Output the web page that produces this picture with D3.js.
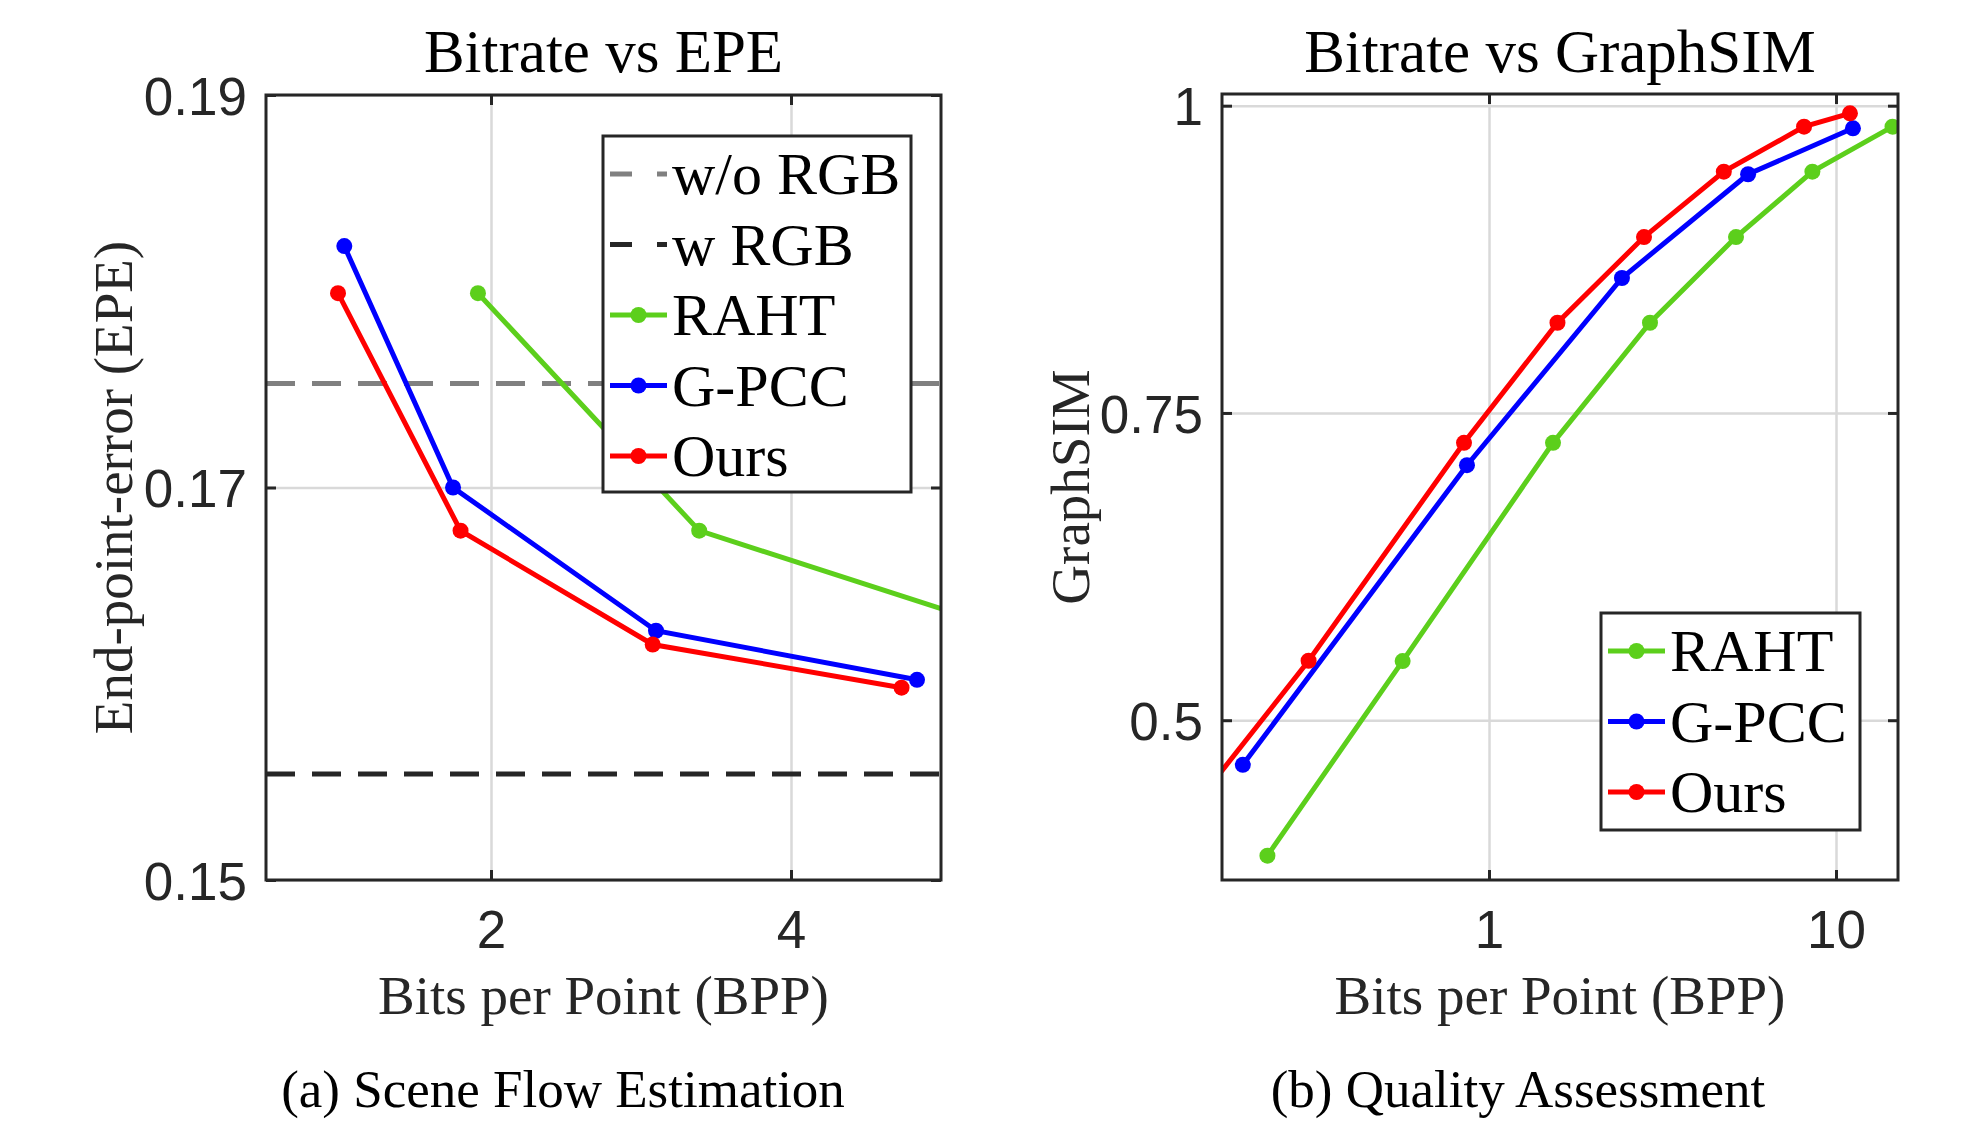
<!DOCTYPE html>
<html>
  <head>
    <meta charset="utf-8" />
    <title>Bitrate vs EPE / GraphSIM</title>
    <script src="https://d3js.org/d3.v7.min.js"></script>
    <style>
      body { margin: 0; background: #fff; }
      .tick text { font-family: "Liberation Sans", Arial, sans-serif; font-size: 53px; fill: #262626; }
      .frame { fill: none; stroke: #262626; stroke-width: 3; }
      .grid line { stroke: #d9d9d9; stroke-width: 2.5; }
      .grid path { display: none; }
      .ax path { display: none; }
      .ax line { stroke: #262626; stroke-width: 3; }
      .serif { font-family: "Liberation Serif", "Times New Roman", serif; }
    </style>
  </head>
  <body>
    <svg id="chart" width="1963" height="1127"></svg>
    <script>
      // ---- data: (a) scene flow, bitrate vs EPE ----
      const epeXTicks = [2, 4];
      const epeYTicks = [0.15, 0.17, 0.19];
      const epeRahtBpp = [1.913, 3.388, 5.74, 8.0];
      const epeRahtVal = [0.1799, 0.1678, 0.1620, 0.1598];
      const epeGpccBpp = [1.022, 1.747, 3.100, 4.840];
      const epeGpccVal = [0.1823, 0.1700, 0.1627, 0.1602];
      const epeOursBpp = [0.980, 1.797, 3.078, 4.737];
      const epeOursVal = [0.1799, 0.1678, 0.1620, 0.1598];
      const epeWoRGB = 0.1753;
      const epeWRGB = 0.1554;

      // ---- data: (b) quality assessment, bitrate vs GraphSIM ----
      const simXTicks = [1, 10];
      const simYTicks = [0.5, 0.75, 1];
      const simRahtBpp = [0.2298, 0.5637, 1.529, 2.91, 5.15, 8.55, 14.55];
      const simRahtVal = [0.3898, 0.5481, 0.7257, 0.8234, 0.8931, 0.9463, 0.9829];
      const simGpccBpp = [0.1952, 0.864, 2.416, 5.58, 11.19];
      const simGpccVal = [0.4637, 0.7075, 0.8598, 0.9442, 0.9816];
      const simOursBpp = [0.109, 0.302, 0.847, 1.575, 2.797, 4.75, 8.09, 10.97];
      const simOursVal = [0.3898, 0.5484, 0.7257, 0.8234, 0.8931, 0.9463, 0.9829, 0.9938];

      const colors = { RAHT: '#5ccf1c', 'G-PCC': '#0000ff', Ours: '#ff0000' };

      const svg = d3.select('#chart');
      svg.append('rect').attr('width', 1963).attr('height', 1127).attr('fill', '#fff');

      const zip = (xs, ys) => xs.map((x, i) => [x, ys[i]]);

      function panel(opt) {
        const { x0, x1, y0, y1, x, y, id } = opt;
        const g = svg.append('g');

        g.append('clipPath').attr('id', id)
          .append('rect').attr('x', x0).attr('y', y0)
          .attr('width', x1 - x0).attr('height', y1 - y0);

        // grid
        g.append('g').attr('class', 'grid')
          .attr('transform', `translate(0,${y1})`)
          .call(d3.axisBottom(x).tickValues(opt.xTicks).tickSize(-(y1 - y0)).tickFormat(''));
        g.append('g').attr('class', 'grid')
          .attr('transform', `translate(${x0},0)`)
          .call(d3.axisLeft(y).tickValues(opt.yTicks).tickSize(-(x1 - x0)).tickFormat(''));

        // reference lines + series
        const plot = g.append('g').attr('clip-path', `url(#${id})`);
        (opt.hlines || []).forEach(h => {
          plot.append('line')
            .attr('x1', x0).attr('x2', x1)
            .attr('y1', y(h.value)).attr('y2', y(h.value))
            .attr('stroke', h.color).attr('stroke-width', 5)
            .attr('stroke-dasharray', '29,17');
        });
        const line = d3.line().x(d => x(d[0])).y(d => y(d[1]));
        opt.series.forEach(s => {
          plot.append('path').datum(s.pts)
            .attr('d', line).attr('fill', 'none')
            .attr('stroke', colors[s.name]).attr('stroke-width', 5);
          plot.selectAll(null).data(s.pts).enter().append('circle')
            .attr('cx', d => x(d[0])).attr('cy', d => y(d[1]))
            .attr('r', 8).attr('fill', colors[s.name]);
        });

        // ticks (inward, all four sides)
        const bx = g.append('g').attr('class', 'ax')
          .attr('transform', `translate(0,${y1})`)
          .call(d3.axisBottom(x).tickValues(opt.xTicks).tickSize(-10).tickFormat(opt.xFmt));
        bx.selectAll('text').attr('y', 68).attr('dy', 0);
        const ly = g.append('g').attr('class', 'ax')
          .attr('transform', `translate(${x0},0)`)
          .call(d3.axisLeft(y).tickValues(opt.yTicks).tickSize(-10).tickPadding(19).tickFormat(opt.yFmt));
        ly.selectAll('text').attr('dy', '0.36em');
        g.append('g').attr('class', 'ax')
          .attr('transform', `translate(0,${y0})`)
          .call(d3.axisTop(x).tickValues(opt.xTicks).tickSize(-10).tickFormat(''));
        g.append('g').attr('class', 'ax')
          .attr('transform', `translate(${x1},0)`)
          .call(d3.axisRight(y).tickValues(opt.yTicks).tickSize(-10).tickFormat(''));

        g.append('rect').attr('class', 'frame')
          .attr('x', x0).attr('y', y0).attr('width', x1 - x0).attr('height', y1 - y0);

        const cx = (x0 + x1) / 2;
        g.append('text').attr('class', 'serif')
          .attr('x', cx).attr('y', 72).attr('text-anchor', 'middle')
          .attr('font-size', 61).attr('fill', '#000').text(opt.title);
        g.append('text').attr('class', 'serif')
          .attr('x', cx).attr('y', 1014).attr('text-anchor', 'middle')
          .attr('font-size', 55).attr('fill', '#262626').text('Bits per Point (BPP)');
        g.append('text').attr('class', 'serif')
          .attr('transform', `translate(${opt.ylabX},${(y0 + y1) / 2}) rotate(-90)`)
          .attr('text-anchor', 'middle')
          .attr('font-size', 55).attr('fill', '#262626').text(opt.ylabel);
        g.append('text').attr('class', 'serif')
          .attr('x', opt.capX).attr('y', 1107).attr('text-anchor', 'middle')
          .attr('font-size', 53).attr('fill', '#000').text(opt.caption);

        // legend
        const L = opt.legend;
        const lg = g.append('g');
        lg.append('rect').attr('x', L.x).attr('y', L.y).attr('width', L.w).attr('height', L.h)
          .attr('fill', '#fff').attr('stroke', '#262626').attr('stroke-width', 3);
        L.items.forEach((it, i) => {
          const ry = L.row0 + i * 70.5;
          const lx = L.x + 7;
          const ln = lg.append('line')
            .attr('x1', lx).attr('x2', lx + 57).attr('y1', ry).attr('y2', ry)
            .attr('stroke', it.color || colors[it.name]).attr('stroke-width', 5);
          if (it.dash) {
            ln.attr('stroke-dasharray', '22,25');
          } else {
            lg.append('circle').attr('cx', lx + 28.5).attr('cy', ry).attr('r', 8)
              .attr('fill', colors[it.name]);
          }
          lg.append('text').attr('class', 'serif')
            .attr('x', lx + 62).attr('y', ry).attr('dy', '0.34em')
            .attr('font-size', 60).attr('fill', '#000').text(it.name);
        });
      }

      // (a) Bitrate vs EPE
      panel({
        id: 'clipA', x0: 266, x1: 941, y0: 95, y1: 880,
        x: d3.scaleLinear().domain([0.5, 5]).range([266, 941]),
        y: d3.scaleLinear().domain([0.15, 0.19]).range([880, 95]),
        xTicks: epeXTicks, yTicks: epeYTicks,
        xFmt: d3.format('d'), yFmt: d3.format('.2f'),
        hlines: [
          { value: epeWoRGB, color: '#808080' },
          { value: epeWRGB, color: '#262626' }
        ],
        series: [
          { name: 'RAHT', pts: zip(epeRahtBpp, epeRahtVal) },
          { name: 'G-PCC', pts: zip(epeGpccBpp, epeGpccVal) },
          { name: 'Ours', pts: zip(epeOursBpp, epeOursVal) }
        ],
        title: 'Bitrate vs EPE', ylabel: 'End-point-error (EPE)', ylabX: 132,
        caption: '(a) Scene Flow Estimation', capX: 563,
        legend: {
          x: 603, y: 136, w: 308, h: 356, row0: 174,
          items: [
            { name: 'w/o RGB', dash: true, color: '#808080' },
            { name: 'w RGB', dash: true, color: '#262626' },
            { name: 'RAHT' }, { name: 'G-PCC' }, { name: 'Ours' }
          ]
        }
      });

      // (b) Bitrate vs GraphSIM
      panel({
        id: 'clipB', x0: 1222, x1: 1898, y0: 94, y1: 880,
        x: d3.scaleLog().domain([0.17, 15.09]).range([1222, 1898]),
        y: d3.scaleLinear().domain([0.37, 1.0095]).range([880, 94]),
        xTicks: simXTicks, yTicks: simYTicks,
        xFmt: d3.format('d'), yFmt: d => String(d),
        series: [
          { name: 'RAHT', pts: zip(simRahtBpp, simRahtVal) },
          { name: 'G-PCC', pts: zip(simGpccBpp, simGpccVal) },
          { name: 'Ours', pts: zip(simOursBpp, simOursVal) }
        ],
        title: 'Bitrate vs GraphSIM', ylabel: 'GraphSIM', ylabX: 1089,
        caption: '(b) Quality Assessment', capX: 1518,
        legend: {
          x: 1601, y: 613, w: 259, h: 217, row0: 651,
          items: [{ name: 'RAHT' }, { name: 'G-PCC' }, { name: 'Ours' }]
        }
      });
    </script>
  </body>
</html>
